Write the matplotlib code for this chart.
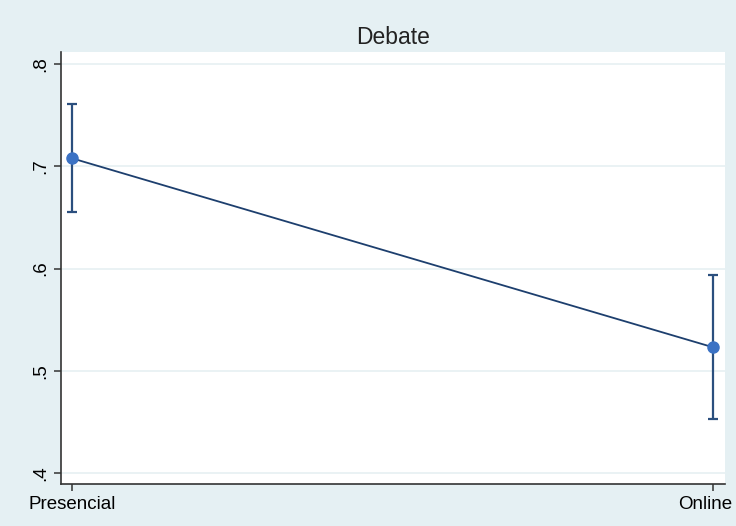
import matplotlib.pyplot as plt
import numpy as np

# valeurs
categories = ["Presencial", "Online"]
means = [0.708, 0.523]
ci_low = [0.655, 0.453]
ci_high = [0.761, 0.594]
yticks = [0.4, 0.5, 0.6, 0.7, 0.8]
ytick_labels = [".4", ".5", ".6", ".7", ".8"]

plt.rcParams['font.family'] = ['Liberation Sans', 'DejaVu Sans']

fig = plt.figure(figsize=(7.36, 5.26), dpi=100)
fig.patch.set_facecolor("#e5f0f3")
ax = fig.add_axes([0.0829, 0.0798, 0.9021, 0.8212])
ax.set_facecolor("white")

x = np.arange(len(categories))
means = np.array(means)
yerr = [means - np.array(ci_low), np.array(ci_high) - means]

ax.plot(x, means, color="#1d3f6e", lw=1.3, zorder=2)
ax.errorbar(x, means, yerr=yerr, fmt="none", ecolor="#2b4f7e", elinewidth=1.6,
            capsize=3.5, capthick=1.6, zorder=3)
ax.plot(x, means, "o", color="#3b72c4", ms=8, zorder=4)

ax.set_xlim(-0.017, 1.019)
ax.set_ylim(0.389, 0.812)
ax.set_xticks(x)
# la dernière étiquette est posée à part, décalée vers le bord droit comme dans Stata
ax.set_xticklabels(categories[:-1] + [""], fontsize=13.5)
ax.annotate(categories[-1], xy=(x[-1], 0), xycoords=("data", "axes fraction"),
            xytext=(14, -8.5), textcoords="offset points",
            ha="right", va="top", fontsize=13.5)
ax.set_yticks(yticks)
ax.set_yticklabels(ytick_labels, fontsize=13.5, rotation=90, va="center")
ax.grid(axis="y", color="#e6f0f2", lw=1.2)
ax.set_axisbelow(True)

for s in ["top", "right"]:
    ax.spines[s].set_visible(False)
for s in ["left", "bottom"]:
    ax.spines[s].set_color("#333333")
    ax.spines[s].set_linewidth(1.2)
ax.tick_params(length=5, color="#333333", width=1.1)

ax.set_title("Debate", fontsize=16.5, color="#222222", pad=6)

plt.savefig("out.png", dpi=100, facecolor=fig.get_facecolor())
